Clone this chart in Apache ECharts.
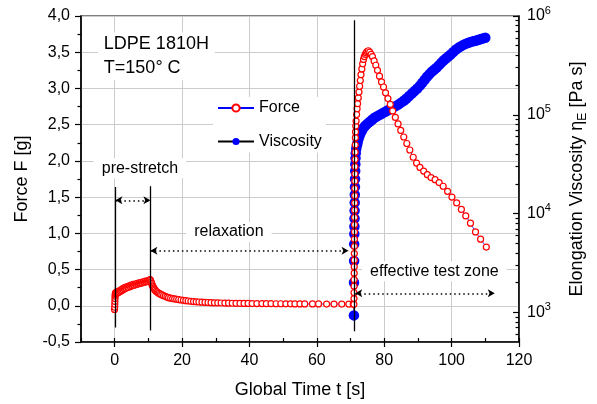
<!DOCTYPE html>
<html><head><meta charset="utf-8">
<script src="https://cdn.jsdelivr.net/npm/echarts@6/dist/echarts.min.js"></script>
<style>html,body{margin:0;padding:0;background:#fff}#chart{width:597px;height:404px}</style>
</head><body><div id="chart"></div>
<script>
// ---------- data ----------
const forcePrestretch = [[-0.05,-0.05],[0.0,-0.02],[0.03,0.02],[0.06,0.06],[0.09,0.10],[0.12,0.13],[0.16,0.155],[0.22,0.17],[0.3,0.18],[0.4,0.165],[0.5,0.19],[0.65,0.175],[0.8,0.195],[0.95,0.18],[1.1,0.2],[1.3,0.19],[1.5,0.21],[1.7,0.2],[1.9,0.22],[2.1,0.21],[2.3,0.235],[2.5,0.22],[2.7,0.245],[2.9,0.235],[3.1,0.255],[3.4,0.245],[3.7,0.265],[4.0,0.255],[4.3,0.275],[4.6,0.265],[4.9,0.285],[5.2,0.275],[5.5,0.295],[5.8,0.285],[6.1,0.3],[6.4,0.295],[6.7,0.31],[7.0,0.3],[7.3,0.315],[7.6,0.31],[7.9,0.325],[8.2,0.315],[8.5,0.33],[8.8,0.325],[9.1,0.34],[9.4,0.33],[9.7,0.345],[10.0,0.335],[10.3,0.35],[10.5,0.36],[10.65,0.35]];
const forceRelaxation = [[10.8,0.33],[10.95,0.31],[11.1,0.29],[11.25,0.275],[11.4,0.26],[11.6,0.245],[11.8,0.23],[12.0,0.215],[12.3,0.20],[12.6,0.19],[12.9,0.18],[13.2,0.17],[13.6,0.16],[14.0,0.15],[14.5,0.14],[15.0,0.13],[15.5,0.12],[16.0,0.112],[16.6,0.105],[17.2,0.10],[17.8,0.095],[18.4,0.09],[19.0,0.085],[19.7,0.08],[20.4,0.075],[21.1,0.07],[21.8,0.066],[22.6,0.062],[23.4,0.058],[24.2,0.055],[25.0,0.052],[25.9,0.05],[26.8,0.047],[27.7,0.045],[28.6,0.043],[29.6,0.041],[30.6,0.04],[31.6,0.038],[32.7,0.037],[33.8,0.036],[34.9,0.035],[36.0,0.034],[37.2,0.033],[38.4,0.032],[39.6,0.032],[40.8,0.031],[42.2,0.03],[43.7,0.03],[45.0,0.029],[46.4,0.029],[47.9,0.028],[49.3,0.028],[50.8,0.027],[52.2,0.027],[53.5,0.026],[55.0,0.026],[56.4,0.025],[58.7,0.025],[60.5,0.025],[62.9,0.024],[65.1,0.024],[67.4,0.024],[69.5,0.023],[70.8,0.023]];
const forceTest = [[71.00,0.02],[71.02,0.10],[71.03,0.18],[71.05,0.27],[71.06,0.36],[71.08,0.45],[71.09,0.54],[71.11,0.63],[71.12,0.72],[71.14,0.82],[71.15,0.92],[71.17,1.02],[71.18,1.12],[71.20,1.22],[71.21,1.32],[71.23,1.42],[71.24,1.52],[71.26,1.62],[71.28,1.72],[71.30,1.82],[71.32,1.92],[71.34,2.02],[71.37,2.12],[71.40,2.22],[71.44,2.32],[71.48,2.40],[71.55,2.48],[71.65,2.55],[71.8,2.64],[71.95,2.72],[72.1,2.79],[72.3,2.87],[72.5,2.95],[72.7,3.03],[72.9,3.11],[73.1,3.19],[73.35,3.27],[73.6,3.34],[73.85,3.40],[74.1,3.44],[74.4,3.47],[74.65,3.49],[74.9,3.51],[75.3,3.52],[75.7,3.50],[76.1,3.47],[76.5,3.44],[77.0,3.38],[77.5,3.32],[78.0,3.25],[78.6,3.17],[79.2,3.09],[79.8,3.02],[80.4,2.94],[81.1,2.86],[81.8,2.78],[82.5,2.69],[83.3,2.60],[84.1,2.51],[84.9,2.42],[85.8,2.33],[86.7,2.24],[87.6,2.15],[88.6,2.05],[89.6,1.97],[90.6,1.91],[91.7,1.86],[92.8,1.81],[93.9,1.77],[95.1,1.74],[96.3,1.70],[97.5,1.65],[98.8,1.58],[100.1,1.50],[101.5,1.42],[102.9,1.33],[104.2,1.24],[105.6,1.14],[107.1,1.02],[108.6,0.92],[110.3,0.81]];
// elongational viscosity [Pa s] vs time [s]
const viscosityTest = [[71.00,930],[71.03,2000],[71.06,3300],[71.09,4900],[71.12,6200],[71.15,7400],[71.18,8900],[71.21,10700],[71.24,12900],[71.27,15500],[71.30,18600],[71.34,22400],[71.38,26900],[71.42,31600],[71.47,36300],[71.55,40700],[71.70,45200],[71.90,49000],[72.10,52500],[72.40,57500],[72.70,61700],[73.00,65300],[73.40,69200],[73.90,74100],[74.40,77600],[75.00,81300],[75.70,85100],[76.40,89100],[77.10,93300],[77.90,96600],[78.70,100000],[79.50,103500],[80.30,107200],[81.10,110900],[81.90,114800],[82.70,118900],[83.50,123000],[84.30,127400],[85.10,133400],[85.90,139600],[86.60,146200],[87.40,154900],[88.20,164100],[89.00,173800],[89.80,184100],[90.60,197200],[91.30,211300],[92.00,226500],[92.70,242700],[93.40,257000],[94.10,272300],[94.80,285100],[95.50,298500],[96.20,316200],[96.90,335000],[97.60,354800],[98.30,371500],[99.00,389000],[99.70,407400],[100.50,431500],[101.30,457100],[102.10,478600],[102.90,495500],[103.60,512900],[104.30,524800],[105.00,537000],[105.70,547000],[106.40,555900],[107.10,562300],[107.80,571500],[108.50,582100],[109.20,591600],[110.00,602600]];

const xMajorTicks = [0, 20, 40, 60, 80, 100, 120];
const rightExponents = [3, 4, 5, 6];
const minorMantissas = [2, 3, 4, 5, 6, 7, 8, 9];
const viscosityRange = [500, 1000000];

// annotation lines (data coordinates: time s, force g)
const phaseLines = [[0.2, 1.64, -0.30], [10.6, 1.65, -0.34], [71.1, 3.94, -0.35]];
const phaseArrows = [[0.2, 10.6, 1.455], [10.6, 69.4, 0.76], [71.4, 112.8, 0.172]];
const textNotes = [
  {text: 'LDPE 1810H', at: [-5.0, 3.61], align: 'left', size: 18},
  {text: 'T=150° C', at: [-5.0, 3.28], align: 'left', size: 18},
  {text: 'pre-stretch', at: [7.5, 1.9], align: 'center', size: 16},
  {text: 'relaxation', at: [33.9, 1.02], align: 'center', size: 16},
  {text: 'effective test zone', at: [94.9, 0.475], align: 'center', size: 16}
];

// ---------- chart ----------
const FONT = '"Liberation Sans", Arial, Helvetica, sans-serif';
const logMin = Math.log10(viscosityRange[0]);
const logMax = Math.log10(viscosityRange[1]);
const minorLog = [];
[2, 3, 4, 5].forEach(function (n) {
  minorMantissas.forEach(function (k) {
    const v = Math.log10(k) + n;
    if (v > logMin + 1e-6 && v < logMax) minorLog.push(v);
  });
});

const forceData = forcePrestretch.concat(forceRelaxation, forceTest);

const markLineData = [];
phaseLines.forEach(function (l) {
  markLineData.push([
    {coord: [l[0], l[1]], symbol: 'none', lineStyle: {color: '#000', width: 1.3, type: 'solid'}},
    {coord: [l[0], l[2]], symbol: 'none'}
  ]);
});
phaseArrows.forEach(function (a) {
  markLineData.push([
    {coord: [a[0], a[2]], symbol: 'arrow', symbolSize: [6, 7], lineStyle: {color: '#000', width: 1.5, type: [1.5, 3]}},
    {coord: [a[1], a[2]], symbol: 'arrow', symbolSize: [6, 7]}
  ]);
});

const markPointData = textNotes.map(function (n) {
  return {
    coord: n.at, symbol: 'rect', symbolSize: 1,
    itemStyle: {color: 'rgba(0,0,0,0)'},
    label: {
      show: true, position: 'inside', formatter: n.text, align: n.align, verticalAlign: 'middle',
      fontSize: n.size, fontFamily: FONT, color: '#000',
      backgroundColor: '#fff', padding: n.align === 'left' ? [3, 6] : [2, 8]
    }
  };
});

const chart = echarts.init(document.getElementById('chart'), null, {renderer: 'canvas'});
chart.setOption({
  animation: false,
  backgroundColor: '#fff',
  textStyle: {fontFamily: FONT},
  grid: {left: 81, right: 73, top: 16, bottom: 61, show: true, borderColor: '#000', borderWidth: 1.2, backgroundColor: 'transparent'},
  legend: {
    data: ['Force', 'Viscosity'], orient: 'vertical', left: 213, top: 97,
    itemWidth: 36, itemHeight: 9, itemGap: 17.5, padding: [3, 4],
    backgroundColor: '#fff',
    textStyle: {fontSize: 16, color: '#000', fontFamily: FONT}
  },
  xAxis: [
    {
      type: 'value', min: -10, max: 120, minInterval: 20, maxInterval: 20,
      name: 'Global Time t [s]', nameLocation: 'middle', nameGap: 48,
      nameTextStyle: {fontSize: 18, color: '#000', fontFamily: FONT, verticalAlign: 'middle'},
      axisLine: {onZero: false, lineStyle: {color: '#000', width: 1.5}},
      axisTick: {show: true, inside: false, length: 5, customValues: xMajorTicks, lineStyle: {color: '#000', width: 1.2}},
      axisLabel: {customValues: xMajorTicks, margin: 11, fontSize: 16, color: '#000', fontFamily: FONT,
        formatter: function (v) { return (v % 20 === 0) ? String(v) : ''; }},
      splitLine: {show: true, lineStyle: {color: '#cccccc', width: 1}}
    },
    {
      type: 'value', min: -10, max: 120, interval: 10, position: 'bottom',
      axisLine: {show: false, onZero: false},
      axisTick: {show: true, inside: true, length: 4, lineStyle: {color: '#000', width: 1.2}},
      axisLabel: {show: false}, splitLine: {show: false}
    }
  ],
  yAxis: [
    {
      type: 'value', min: -0.5, max: 4, interval: 0.5, position: 'left',
      name: 'Force F [g]', nameLocation: 'middle', nameGap: 57, nameRotate: 90,
      nameTextStyle: {fontSize: 18, color: '#000', fontFamily: FONT, verticalAlign: 'middle'},
      axisLine: {onZero: false, lineStyle: {color: '#000', width: 1.5}},
      axisTick: {show: true, inside: false, length: 6, lineStyle: {color: '#000', width: 1.2}},
      minorTick: {show: true, splitNumber: 2, length: 3.5, lineStyle: {color: '#000', width: 1.2}},
      axisLabel: {margin: 11, fontSize: 16, color: '#000', fontFamily: FONT,
        formatter: function (v) { return v.toFixed(1).replace('.', ','); }},
      splitLine: {show: true, lineStyle: {color: '#cccccc', width: 1}}
    },
    {
      type: 'log', logBase: 10, min: viscosityRange[0], max: viscosityRange[1], position: 'right', show: false,
      splitLine: {show: false}
    },
    {
      type: 'value', min: logMin, max: logMax, position: 'right',
      name: 'Elongation Viscosity η{sub|E} [Pa s]', nameLocation: 'middle', nameGap: 58, nameRotate: 90,
      nameTextStyle: {fontSize: 18, color: '#000', fontFamily: FONT, verticalAlign: 'middle', lineHeight: 24,
        rich: {sub: {fontSize: 12, fontFamily: FONT, color: '#000', lineHeight: 13, verticalAlign: 'bottom'}}},
      axisLine: {show: true, onZero: false, lineStyle: {color: '#000', width: 1.5}},
      axisTick: {show: true, inside: true, length: 6, customValues: rightExponents, lineStyle: {color: '#000', width: 1.2}},
      axisLabel: {customValues: rightExponents, margin: 8, color: '#000',
        formatter: function (v) { return '{b|10}{s|' + Math.round(v) + '}'; },
        rich: {
          b: {fontSize: 16, fontFamily: FONT, color: '#000', lineHeight: 22},
          s: {fontSize: 11, fontFamily: FONT, color: '#000', lineHeight: 12, verticalAlign: 'top'}
        }},
      splitLine: {show: false}
    },
    {
      type: 'value', min: logMin, max: logMax, position: 'right',
      axisLine: {show: false, onZero: false},
      axisTick: {show: true, inside: true, length: 3.5, customValues: minorLog, lineStyle: {color: '#000', width: 1.2}},
      axisLabel: {show: false}, splitLine: {show: false}
    }
  ],
  series: [
    {
      name: 'Viscosity', type: 'line', xAxisIndex: 0, yAxisIndex: 1, z: 2,
      data: viscosityTest, showAllSymbol: true, symbol: 'circle', symbolSize: 10.5,
      itemStyle: {color: '#0000ff'}, lineStyle: {color: '#000', width: 1},
      emphasis: {disabled: true}, silent: true
    },
    {
      name: 'Force', type: 'line', xAxisIndex: 0, yAxisIndex: 0, z: 3,
      data: forceData, showAllSymbol: true, symbol: 'circle', symbolSize: 6,
      itemStyle: {color: '#ffffff', borderColor: '#ff0000', borderWidth: 1.2},
      lineStyle: {color: '#0000ff', width: 0.8},
      emphasis: {disabled: true}, silent: true,
      markLine: {silent: true, symbol: ['none', 'none'], label: {show: false}, emphasis: {disabled: true}, data: markLineData},
      markPoint: {silent: true, data: markPointData}
    }
  ]
});
</script></body></html>
